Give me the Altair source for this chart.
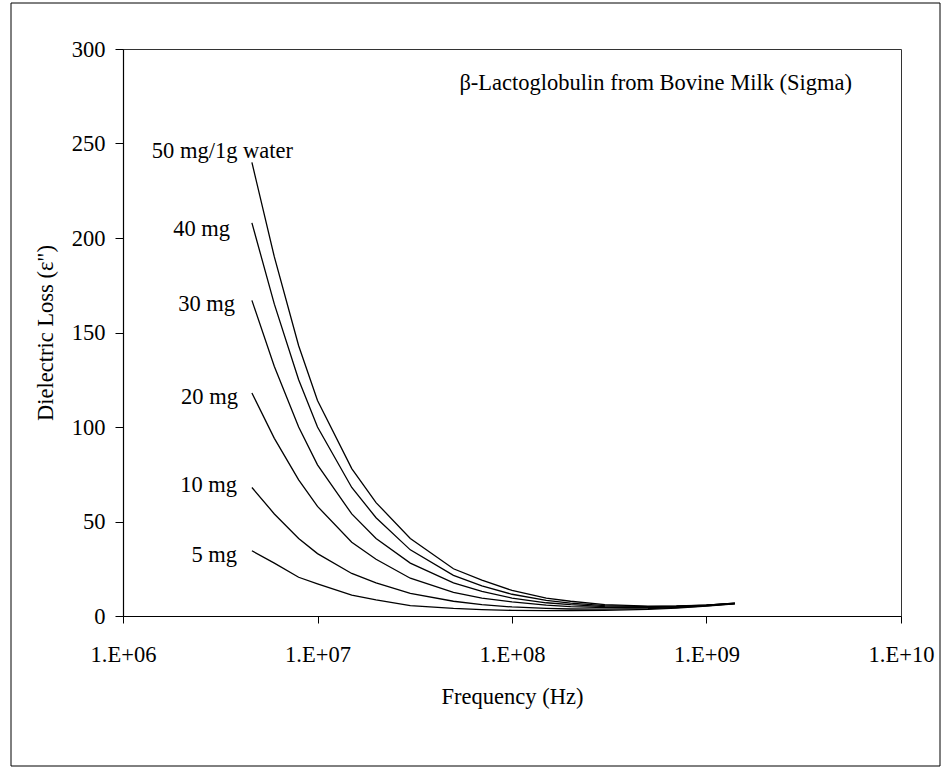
import altair as alt
import pandas as pd

# Frequencies (Hz) at which the curves were read
freq = [4.6e6, 6e6, 8e6, 1e7, 1.5e7, 2e7, 3e7, 5e7, 7e7, 1e8, 1.5e8, 2e8, 3e8, 5e8, 7e8, 1e9, 1.4e9]

loss_50 = [240, 190, 143, 114, 78, 60, 41, 25, 19, 13.5, 9.5, 7.8, 6.0, 5.2, 5.3, 5.8, 6.8]
loss_40 = [208, 165, 125, 100, 68, 52, 35, 21.5, 16, 11.5, 8.3, 6.8, 5.5, 5.0, 5.2, 5.8, 6.8]
loss_30 = [167, 132, 100, 80, 54, 41, 28, 17.5, 13, 9.5, 7.0, 6.0, 5.0, 4.7, 5.0, 5.7, 6.7]
loss_20 = [118, 94, 72, 58, 39, 30, 20, 12.5, 9.5, 7.5, 5.8, 5.0, 4.5, 4.4, 4.8, 5.6, 6.6]
loss_10 = [68, 54, 41, 33, 22.5, 17.5, 12, 7.8, 6.0, 4.8, 4.0, 3.7, 3.6, 3.9, 4.5, 5.4, 6.5]
loss_5 = [34.5, 28, 20.5, 17, 11, 8.5, 5.5, 4.0, 3.4, 3.0, 2.8, 2.8, 3.0, 3.5, 4.2, 5.2, 6.4]

series_names = ["50 mg", "40 mg", "30 mg", "20 mg", "10 mg", "5 mg"]
series_vals = [loss_50, loss_40, loss_30, loss_20, loss_10, loss_5]

# Curve labels: text, frequency of right edge, value at baseline
label_text = ["50 mg/1g water", "40 mg", "30 mg", "20 mg", "10 mg", "5 mg"]
label_f = [7.48e6, 3.55e6, 3.77e6, 3.9e6, 3.86e6, 3.86e6]
label_v = [242.3, 201, 161.4, 112.2, 65.6, 28.6]

note_text = ["β-Lactoglobulin from Bovine Milk (Sigma)"]
note_f = [5.6e9]
note_v = [278.3]

x_ticks = [1e6, 1e7, 1e8, 1e9, 1e10]
y_ticks = [0, 50, 100, 150, 200, 250, 300]

rows = []
for name, vals in zip(series_names, series_vals):
    for f, v in zip(freq, vals):
        rows.append({"s": name, "f": f, "v": v})
df = pd.DataFrame(rows)

lab_df = pd.DataFrame({"t": label_text, "f": label_f, "v": label_v})
note_df = pd.DataFrame({"t": note_text, "f": note_f, "v": note_v})

FONT = "Liberation Serif"
FS = 22.5

xscale = alt.Scale(type="log", domain=[1e6, 1e10])
yscale = alt.Scale(domain=[0, 300])

border = alt.Chart(pd.DataFrame({"a": [0]})).mark_rect(
    fill="white", fillOpacity=0, stroke="black", strokeWidth=1, clip=False
).encode(
    x=alt.value(-112), x2=alt.value(817), y=alt.value(-46), y2=alt.value(717)
)

lines = alt.Chart(df).mark_line(color="black", strokeWidth=1.3).encode(
    x=alt.X("f:Q", scale=xscale,
            axis=alt.Axis(values=x_ticks, title="Frequency (Hz)",
                          labelExpr="'1.E+' + (datum.value < 1e10 ? '0' : '') + format(log(datum.value)/LN10, '.0f')",
                          labelFlush=False, labelOverlap=False,
                          tickSize=7, labelPadding=20, titlePadding=19.5)),
    y=alt.Y("v:Q", scale=yscale,
            axis=alt.Axis(values=y_ticks, title='Dielectric Loss (ε")',
                          labelFlush=False, labelOverlap=False,
                          tickSize=8, labelPadding=10, titlePadding=14)),
    detail="s:N",
)

labels = alt.Chart(lab_df).mark_text(
    align="right", baseline="alphabetic", font=FONT, fontSize=FS, color="black"
).encode(x=alt.X("f:Q", scale=xscale), y=alt.Y("v:Q", scale=yscale), text="t:N")

note = alt.Chart(note_df).mark_text(
    align="right", baseline="alphabetic", font=FONT, fontSize=FS, color="black"
).encode(x=alt.X("f:Q", scale=xscale), y=alt.Y("v:Q", scale=yscale), text="t:N")

chart = alt.layer(border, lines, labels, note).properties(
    width=778, height=567,
    autosize=alt.AutoSizeParams(type="none"),
    padding={"left": 123, "top": 49, "right": 41, "bottom": 151},
    background="white",
).configure_view(
    stroke="#333333", strokeWidth=1
).configure_axis(
    grid=False,
    domainColor="black", domainWidth=1.2,
    tickColor="black", tickWidth=1,
    labelFont=FONT, labelFontSize=FS, labelColor="black",
    titleFont=FONT, titleFontSize=FS, titleFontWeight="normal", titleColor="black",
)

chart.save("out.html", embed_options={"renderer": "svg", "actions": False})
